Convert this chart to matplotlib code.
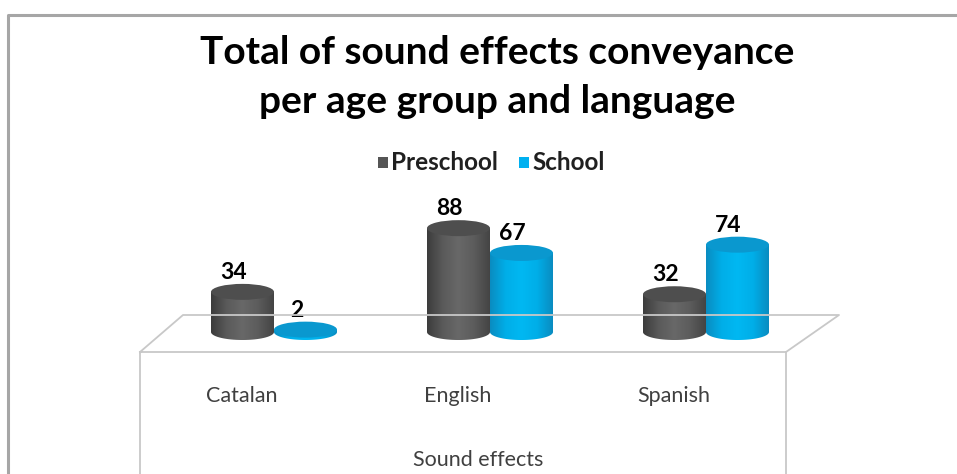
import numpy as np
import matplotlib
matplotlib.use("Agg")
import matplotlib.pyplot as plt
from matplotlib.patches import PathPatch, Ellipse, Rectangle
from matplotlib.path import Path
from matplotlib.colors import LinearSegmentedColormap
from matplotlib.lines import Line2D

plt.rcParams['font.family'] = ['Lato', 'DejaVu Sans']

# ---- data ----
categories = ["Catalan", "English", "Spanish"]
series_names = ["Preschool", "School"]
preschool = [34, 88, 32]
school = [2, 67, 74]
title = "Total of sound effects conveyance\nper age group and language"
axis_title = "Sound effects"

W, H = 957, 474
fig = plt.figure(figsize=(W / 100, H / 100), dpi=100)
ax = fig.add_axes([0, 0, 1, 1])

# pixel geometry of the plotting area
x_center_px = 274.0      # pixel column of category 0's pair centre
x_step_px = 216.0        # pixels per category
y_base_px = 332.0        # pixel row of value 0
y_unit_px = 1.18         # pixels per value unit

ax.set_xlim(-x_center_px / x_step_px, (W - x_center_px) / x_step_px)
ax.set_ylim(-(H - y_base_px) / y_unit_px, y_base_px / y_unit_px)
ax.axis("off")


def fig_px(x, y):
    return x / W, 1 - y / H


def px_line(xs, ys, **kw):
    fx, fy = zip(*[fig_px(a, b) for a, b in zip(xs, ys)])
    fig.add_artist(Line2D(fx, fy, transform=fig.transFigure, **kw))


# chart frame
px_line([8, 8, 957], [474, 15, 15], color="#a6a6a6", lw=2.2, solid_capstyle="butt")

# floor platform
floor_kw = dict(color="#c8c8c8", lw=1.3)
px_line([140, 183, 839, 786, 140, 140], [352, 315, 315, 352, 352, 474], **floor_kw)
px_line([786, 786], [352, 474], **floor_kw)

bar_w = 63.0 / x_step_px
ell_h = 16.0 / y_unit_px

gray_cmap = LinearSegmentedColormap.from_list(
    "g", ["#3c3c3c", "#5a5a5a", "#686868", "#5c5c5c", "#444444"])
blue_cmap = LinearSegmentedColormap.from_list(
    "b", ["#0a8cc0", "#00aee8", "#00b8f2", "#00aee8", "#0a8cc0"])
top_colors = ["#4e4e4e", "#0a98cf"]
cmaps = [gray_cmap, blue_cmap]

grad = np.linspace(0, 1, 256).reshape(1, -1)


def cylinder(xl, v, cmap, top_color):
    cx = xl + bar_w / 2
    t = np.linspace(0, -np.pi, 60)
    bx = cx + bar_w / 2 * np.cos(t)
    by = ell_h / 2 * np.sin(t)
    verts = [(xl, 0), (xl, v), (xl + bar_w, v), (xl + bar_w, 0)] + list(zip(bx, by)) + [(xl, 0)]
    codes = [Path.MOVETO] + [Path.LINETO] * (len(verts) - 2) + [Path.CLOSEPOLY]
    body = PathPatch(Path(verts, codes), facecolor="none", edgecolor="none")
    ax.add_patch(body)
    im = ax.imshow(grad, cmap=cmap, extent=[xl, xl + bar_w, -ell_h / 2, v],
                   aspect="auto", interpolation="bilinear", zorder=2)
    im.set_clip_path(body)
    ax.add_patch(Ellipse((cx, v), bar_w, ell_h, facecolor=top_color,
                         edgecolor="none", zorder=3))
    return cx


for i in range(len(categories)):
    for s, vals in enumerate([preschool, school]):
        xl = i - bar_w + s * bar_w
        v = vals[i]
        cx = cylinder(xl, v, cmaps[s], top_colors[s])
        ax.annotate(str(v), (cx, v + ell_h / 2), xytext=(-9, 1),
                    textcoords="offset pixels", ha="center", va="bottom",
                    fontsize=16.5, fontweight="bold", color="#000000", zorder=5)

# category labels and axis title
for i, c in enumerate(categories):
    ax.text(i - 0.15, -(396 - y_base_px) / y_unit_px, c, ha="center", va="center",
            fontsize=15.5, color="#404040")
ax.text(0.5, fig_px(0, 460)[1], axis_title, transform=fig.transFigure,
        ha="center", va="center", fontsize=15.5, color="#404040")

# title
fig.text(fig_px(497, 0)[0], fig_px(0, 77)[1], title, ha="center", va="center",
         fontsize=28, fontweight="bold", color="#000000", linespacing=1.45)

# legend
leg_items = [(378, "#555555", series_names[0]), (519, "#00b0f0", series_names[1])]
for x0, col, name in leg_items:
    fx, fy = fig_px(x0, 168)
    fig.add_artist(Rectangle((fx, fy), 10 / W, 11 / H, transform=fig.transFigure,
                             facecolor=col, edgecolor="none"))
    fig.text(fig_px(x0 + 13, 0)[0], fig_px(0, 162)[1], name, ha="left", va="center",
             fontsize=17.5, fontweight="bold", color="#202020")

fig.savefig("out.png", dpi=100)
